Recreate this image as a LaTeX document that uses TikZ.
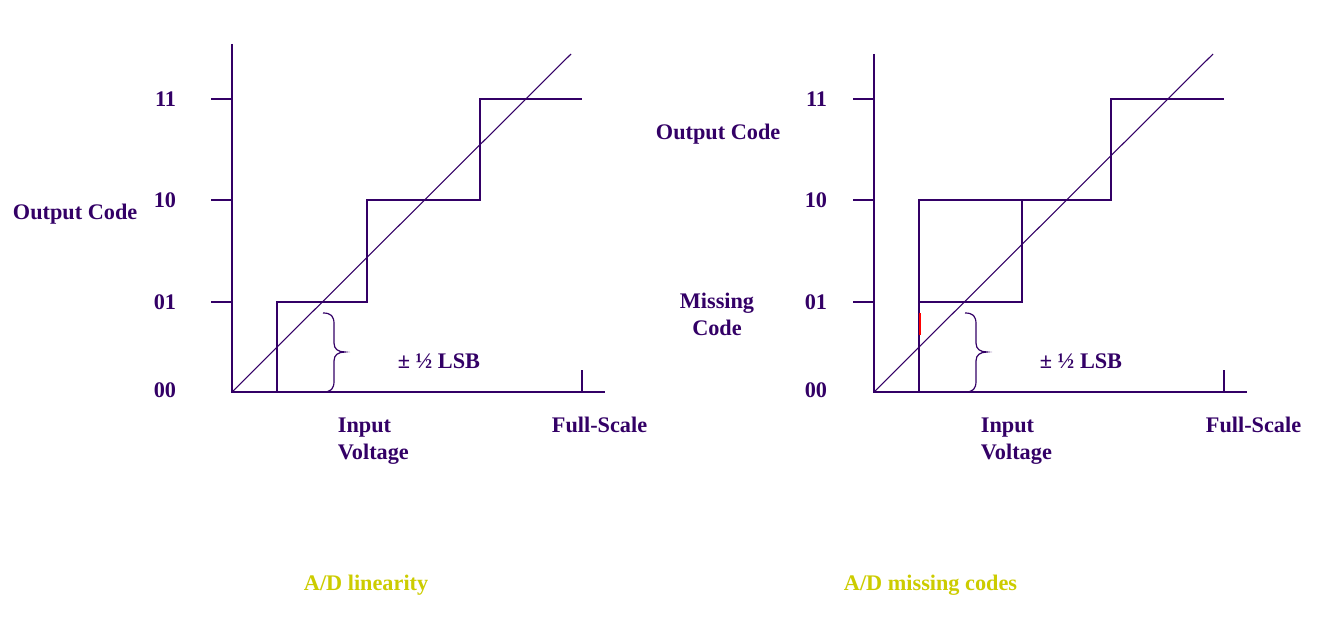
\documentclass[tikz,border=0pt]{standalone}
\usepackage{fontspec}
\setmainfont{Liberation Serif}
\definecolor{adpurple}{HTML}{330066}
\definecolor{adyellow}{HTML}{CCCC00}
\tikzset{lbl/.style={font=\bfseries\fontsize{16.7}{20.3}\selectfont,inner sep=0pt},
  lsbbrace/.pic={\draw [line width=0.9pt] (0,0) .. controls (8,0) and (11,3) .. (11,11) -- (11,30)
    .. controls (11,36) and (15,39) .. (22,39) .. controls (15,39) and (11,42) .. (11,48)
    -- (11,68) .. controls (11,76) and (8,79) .. (0,79);},
  diag/.style={line width=0.8pt}}
\begin{document}
\begin{tikzpicture}[x=0.75pt,y=-0.75pt,line width=1.4pt,color=adpurple]
  \useasboundingbox (0,0) rectangle (1331,617);
  \draw (232,44) -- (232,392) -- (605,392);
  \draw (874,54) -- (874,392) -- (1247,392);
  \foreach \y in {99,200,302}
    \draw (211,\y) -- (232,\y) (853,\y) -- (874,\y);
  \foreach \y/\c in {99/11,200/10,302/01,390/00}{
    \node[lbl,anchor=east] (lcode\c) at (177,\y) {\c};
    \node[lbl,anchor=east] (rcode\c) at (828,\y) {\c};
  }
  \draw (582,370) -- (582,392) (1224,370) -- (1224,392);
  \draw [diag] (232,392) -- (571,54) (874,392) -- (1213,54);
  \draw (277,392) -- (277,302) -- (367,302) -- (367,200) -- (480,200) -- (480,99) -- (582,99);
  \draw (919,392) -- (919,200) -- (1111,200) -- (1111,99) -- (1224,99)
    (919,302) -- (1022,302) -- (1022,200);
  \draw [red,line width=1.2pt] (920,313) -- (920,335);
  \pic at (323,313) {lsbbrace};
  \pic at (965,313) {lsbbrace};
  \node[lbl,anchor=base west] (loutput) at (12,219) {Output Code};
  \node[lbl,anchor=base west] (routput) at (655,139) {Output Code};
  \node[lbl,align=center] (missing) at (717,314) {Missing\\Code};
  \node[lbl,align=left,anchor=north west] (linput) at (337,417) {Input\\Voltage};
  \node[lbl,align=left,anchor=north west] (rinput) at (980,417) {Input\\Voltage};
  \node[lbl,anchor=base west] (lfull) at (551,432) {Full-Scale};
  \node[lbl,anchor=base west] (rfull) at (1205,432) {Full-Scale};
  \node[lbl,anchor=base west] (llsb) at (397,368) {± ½ LSB};
  \node[lbl,anchor=base west] (rlsb) at (1039,368) {± ½ LSB};
  \node[lbl,anchor=base west,text=adyellow] (lcap) at (303,590) {A/D linearity};
  \node[lbl,anchor=base west,text=adyellow] (rcap) at (843,590) {A/D missing codes};
\end{tikzpicture}
\end{document}
